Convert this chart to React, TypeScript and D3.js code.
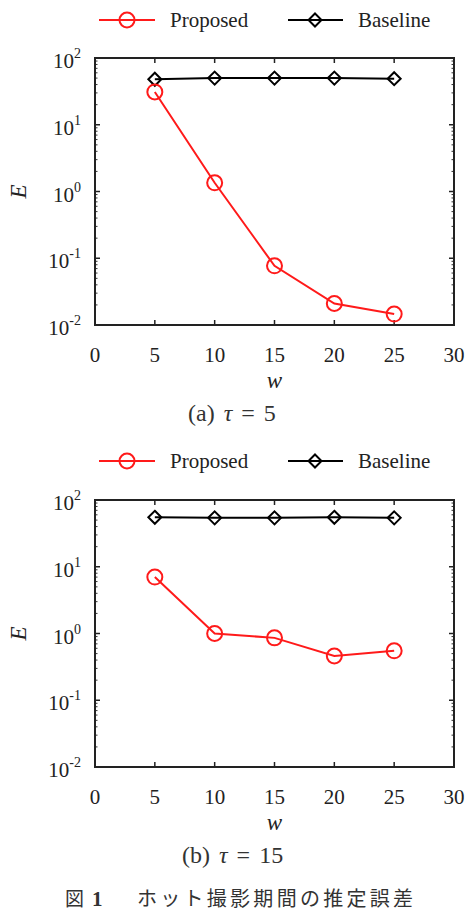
import React from "react";
import * as d3 from "d3";

const wValues = [5, 10, 15, 20, 25];
const proposedA = [31, 1.35, 0.077, 0.021, 0.0146];
const baselineA = [48, 50, 50, 50, 49];
const proposedB = [7.0, 1.0, 0.86, 0.46, 0.55];
const baselineB = [55, 54, 54, 55, 54];
const xTicks = [0, 5, 10, 15, 20, 25, 30];
const yTickExps = [-2, -1, 0, 1, 2];
const seriesNames = ["Proposed", "Baseline"];
const captions = ["(a)", "(b)"];
const tauValues = ["5", "15"];

const SERIF = "Liberation Serif, DejaVu Serif, serif";
const CJK = "Noto Sans CJK JP, sans-serif";
const RED = "#ff1a1a";

function Diamond({ x, y, s }: { x: number; y: number; s: number }) {
  return (
    <path
      d={`M${x},${y - s}L${x + s},${y}L${x},${y + s}L${x - s},${y}Z`}
      fill="none"
      stroke="#000"
      strokeWidth={2}
    />
  );
}

function Legend({ y }: { y: number }) {
  return (
    <g>
      <line x1={99} x2={155} y1={y} y2={y} stroke={RED} strokeWidth={2} />
      <circle cx={127} cy={y} r={7.5} fill="none" stroke={RED} strokeWidth={2} />
      <text x={170} y={y + 7} style={{ fontFamily: SERIF }} fontSize={21} fill="#222">
        {seriesNames[0]}
      </text>
      <line x1={288} x2={343} y1={y} y2={y} stroke="#000" strokeWidth={2} />
      <Diamond x={315} y={y} s={6.5} />
      <text x={358} y={y + 7} style={{ fontFamily: SERIF }} fontSize={21} fill="#222">
        {seriesNames[1]}
      </text>
    </g>
  );
}

function Panel({
  top,
  proposed,
  baseline,
  idx,
}: {
  top: number;
  proposed: number[];
  baseline: number[];
  idx: number;
}) {
  const left = 95;
  const right = 454;
  const plotTop = top;
  const plotBottom = top + 267;
  const x = d3.scaleLinear().domain([0, 30]).range([left, right]);
  const y = d3.scaleLog().domain([0.01, 100]).range([plotBottom, plotTop]);
  const line = d3
    .line<number>()
    .x((_, i) => x(wValues[i]))
    .y((d) => y(d));

  const minor: number[] = [];
  for (let e = -2; e < 2; e++) {
    for (let m = 2; m <= 9; m++) minor.push(m * Math.pow(10, e));
  }

  const cx = x(15);
  return (
    <g>
      {minor.map((v, i) => (
        <g key={"m" + i}>
          <line x1={left} x2={left + 2.5} y1={y(v)} y2={y(v)} stroke="#333" strokeWidth={1} />
          <line x1={right} x2={right - 2.5} y1={y(v)} y2={y(v)} stroke="#333" strokeWidth={1} />
        </g>
      ))}
      {yTickExps.map((e) => {
        const yy = y(Math.pow(10, e));
        return (
          <g key={"y" + e}>
            <line x1={left} x2={left + 5} y1={yy} y2={yy} stroke="#222" strokeWidth={1.5} />
            <line x1={right} x2={right - 5} y1={yy} y2={yy} stroke="#222" strokeWidth={1.5} />
            <text
              x={81}
              y={yy + 10}
              textAnchor="end"
              style={{ fontFamily: SERIF }}
              fontSize={21}
              fill="#222"
            >
              10
              <tspan dy={-10} fontSize={14}>
                {e < 0 ? "-" + Math.abs(e) : String(e)}
              </tspan>
            </text>
          </g>
        );
      })}
      {xTicks.map((t) => (
        <g key={"x" + t}>
          {t > 0 && t < 30 && (
            <>
              <line x1={x(t)} x2={x(t)} y1={plotBottom} y2={plotBottom - 5} stroke="#222" strokeWidth={1.5} />
              <line x1={x(t)} x2={x(t)} y1={plotTop} y2={plotTop + 5} stroke="#222" strokeWidth={1.5} />
            </>
          )}
          <text
            x={x(t)}
            y={plotBottom + 37}
            textAnchor="middle"
            style={{ fontFamily: SERIF }}
            fontSize={21}
            fill="#222"
          >
            {t}
          </text>
        </g>
      ))}
      <rect
        x={left}
        y={plotTop}
        width={right - left}
        height={plotBottom - plotTop}
        fill="none"
        stroke="#222"
        strokeWidth={2}
      />
      <text
        transform={`translate(26,${(plotTop + plotBottom) / 2}) rotate(-90)`}
        textAnchor="middle"
        style={{ fontFamily: SERIF }}
        fontStyle="italic"
        fontSize={23}
        fill="#222"
      >
        E
      </text>
      <text
        x={cx}
        y={plotBottom + 63}
        textAnchor="middle"
        style={{ fontFamily: SERIF }}
        fontStyle="italic"
        fontSize={23}
        fill="#222"
      >
        w
      </text>
      <text
        x={idx === 0 ? 188 : 182}
        y={plotBottom + 96}
        style={{ fontFamily: SERIF }}
        fontSize={24}
        fill="#333"
      >
        {captions[idx]}
        <tspan dx={9} fontStyle="italic">τ</tspan>
        <tspan dx={9}>=</tspan>
        <tspan dx={9}>{tauValues[idx]}</tspan>
      </text>
      <path d={line(baseline) || ""} fill="none" stroke="#000" strokeWidth={2} />
      {baseline.map((v, i) => (
        <Diamond key={"d" + i} x={x(wValues[i])} y={y(v)} s={6.5} />
      ))}
      <path d={line(proposed) || ""} fill="none" stroke={RED} strokeWidth={2} />
      {proposed.map((v, i) => (
        <circle
          key={"c" + i}
          cx={x(wValues[i])}
          cy={y(v)}
          r={7.5}
          fill="none"
          stroke={RED}
          strokeWidth={2}
        />
      ))}
    </g>
  );
}

export default function App() {
  return (
    <svg
      width={466}
      height={912}
      style={{ position: "absolute", left: 0, top: 0, background: "#fff" }}
    >
      <rect width={466} height={912} fill="#fff" />
      <Legend y={20} />
      <Panel top={58} proposed={proposedA} baseline={baselineA} idx={0} />
      <Legend y={461} />
      <Panel top={500} proposed={proposedB} baseline={baselineB} idx={1} />
      <text x={65} y={906} style={{ fontFamily: CJK }} fontSize={19} fill="#333">
        図
      </text>
      <text x={92} y={906} style={{ fontFamily: SERIF }} fontWeight="bold" fontSize={21} fill="#333">
        1
      </text>
      <text
        x={137}
        y={906}
        style={{ fontFamily: CJK }}
        fontSize={20}
        fill="#333"
        textLength={276}
        lengthAdjust="spacing"
      >
        ホット撮影期間の推定誤差
      </text>
    </svg>
  );
}
